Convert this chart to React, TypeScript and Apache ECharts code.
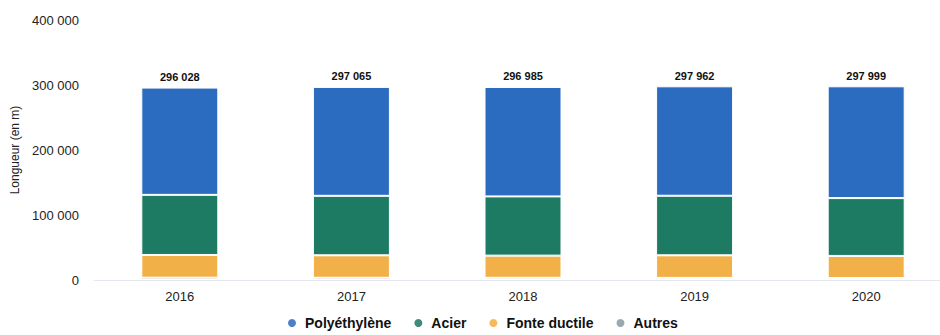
import React, { useEffect, useRef } from "react";
import * as echarts from "echarts";

const years = ["2016", "2017", "2018", "2019", "2020"];
const polyethylene = [165028, 167565, 168385, 168362, 171999];
const acier = [92500, 91500, 91100, 91600, 89000];
const fonteDuctile = [35000, 34600, 34200, 34800, 33900];
const autres = [3500, 3400, 3300, 3200, 3100];
const totals = [296028, 297065, 296985, 297962, 297999];
const yTicks = [0, 100000, 200000, 300000, 400000];

const fmt = (v: number) => String(Math.round(v)).replace(/\B(?=(\d{3})+(?!\d))/g, " ");

export default function App() {
  const ref = useRef<HTMLDivElement>(null);
  useEffect(() => {
    if (!ref.current) return;
    const chart = echarts.init(ref.current, null, { renderer: "svg" });
    const font = "Liberation Sans, Arial, sans-serif";
    const mk = (name: string, data: number[], color: string, extra: any = {}) => ({
      name,
      type: "bar",
      stack: "total",
      data,
      barWidth: 77,
      itemStyle: { color, borderColor: "#ffffff", borderWidth: 1 },
      ...extra,
    });
    chart.setOption({
      animation: false,
      backgroundColor: "#ffffff",
      textStyle: { fontFamily: font },
      grid: { left: 94, top: 20, bottom: 55, right: 8 },
      legend: {
        bottom: 0,
        left: 281,
        icon: "circle",
        itemWidth: 10,
        itemHeight: 10,
        itemGap: 21,
        textStyle: { fontSize: 14, fontWeight: "bold", color: "#111", fontFamily: font, padding: [0, 0, 0, 3] },
        data: [
          { name: "Polyéthylène", itemStyle: { color: "#4f7fc8" } },
          { name: "Acier", itemStyle: { color: "#3f8a7a" } },
          { name: "Fonte ductile", itemStyle: { color: "#f6b95c" } },
          { name: "Autres", itemStyle: { color: "#9aa8b1" } },
        ],
      },
      xAxis: {
        type: "category",
        data: years,
        axisLine: { show: true, lineStyle: { color: "#e4e8ee" } },
        axisTick: { show: false },
        axisLabel: { fontSize: 13, color: "#222", margin: 10 },
      },
      yAxis: {
        type: "value",
        min: yTicks[0],
        max: yTicks[yTicks.length - 1],
        interval: 100000,
        name: "Longueur (en m)",
        nameLocation: "middle",
        nameGap: 67,
        nameTextStyle: { fontSize: 12, color: "#222" },
        splitLine: { show: false },
        axisLine: { show: false },
        axisTick: { show: false },
        axisLabel: { fontSize: 13, color: "#222", margin: 15, formatter: (v: number) => fmt(v) },
      },
      series: [
        mk("Autres", autres, "#8c9aa6"),
        mk("Fonte ductile", fonteDuctile, "#f2b148"),
        mk("Acier", acier, "#1d7a63"),
        mk("Polyéthylène", polyethylene, "#2b6cc0", {
          label: {
            show: true,
            position: "top",
            distance: 5,
            fontSize: 11,
            fontWeight: "bold",
            color: "#111",
            formatter: (p: any) => fmt(totals[p.dataIndex]),
          },
        }),
      ],
    });
    return () => chart.dispose();
  }, []);
  return (
    <div
      ref={ref}
      style={{ position: "fixed", left: 0, top: 0, width: 960, height: 335 }}
    />
  );
}
